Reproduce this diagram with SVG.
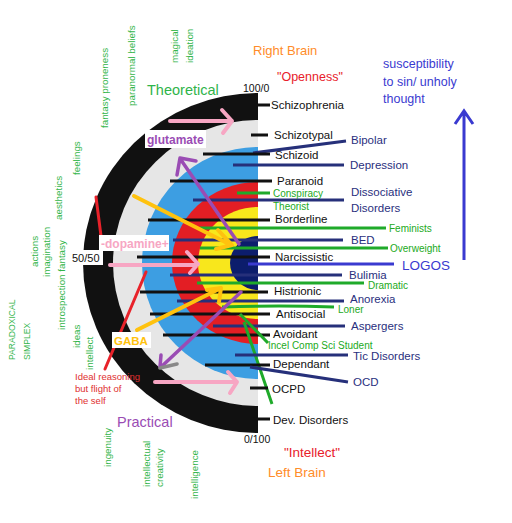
<svg xmlns="http://www.w3.org/2000/svg" width="512" height="523" viewBox="0 0 512 523">
<style>
text{font-family:"Liberation Sans",Arial,sans-serif}
.blk{font-size:11.5px;fill:#111}
.nav{font-size:11.5px;fill:#2a2f7e}
.grn{font-size:10px;fill:#22aa22}
.vg{font-size:9.8px;fill:#33b54a}
.lb{stroke:#111;stroke-width:3;fill:none}
.ln{stroke:#26307a;stroke-width:3;fill:none}
.lg{stroke:#1faa2a;stroke-width:3;fill:none}
.lblue{stroke:#3a3ad0;stroke-width:3;fill:none}
.pk{stroke:#f7a6c3;stroke-width:4;fill:none;stroke-linecap:round;stroke-linejoin:round}
.yl{stroke:#ffc20e;stroke-width:4;fill:none;stroke-linecap:round;stroke-linejoin:round}
.pu{stroke:#9a4cb4;stroke-width:3.5;fill:none;stroke-linecap:round;stroke-linejoin:round}
.rd{stroke:#e8222a;stroke-width:3;fill:none;stroke-linecap:round}
.box{fill:#fff}
</style>
<defs>
<clipPath id="half"><rect x="0" y="0" width="258" height="523"/></clipPath>
</defs>
<rect width="512" height="523" fill="#fff"/>
<g id="target" clip-path="url(#half)">
<ellipse cx="258" cy="263" rx="175" ry="170" fill="#111"/>
<ellipse cx="258" cy="263" rx="145" ry="143" fill="#e6e6e6"/>
<ellipse cx="258" cy="263" rx="116" ry="116" fill="#3d9ee2"/>
<ellipse cx="258" cy="263" rx="86" ry="81" fill="#e31e24"/>
<ellipse cx="258" cy="263" rx="60" ry="56" fill="#f8e71c"/>
<ellipse cx="258" cy="263" rx="28" ry="27" fill="#0c1d6c"/>
</g>
<g id="connectors">
<path class="lb" d="M256 105H270"/>
<path class="lb" d="M251 135H268"/>
<path class="ln" d="M253 153L346 141"/>
<path class="lb" d="M203 154H270"/>
<path class="ln" d="M233 165H344"/>
<path class="lb" d="M170 181H272"/>
<path class="lg" d="M237 193H270"/>
<path class="ln" d="M193 200H344"/>
<path class="lb" d="M148 220H270"/>
<path class="lg" d="M200 228H386"/>
<path class="ln" d="M173 240H343"/>
<path class="lg" d="M200 248H388"/>
<path class="lb" d="M137 257H270"/>
<path class="lblue" d="M248 264H394"/>
<path class="ln" d="M170 275H342"/>
<path class="lg" d="M197 283H364"/>
<path class="lb" d="M140 292H268"/>
<path class="ln" d="M177 301H344"/>
<path class="lg" d="M222 307Q280 305 334 307"/>
<path class="lb" d="M150 314H270"/>
<path class="ln" d="M213 326H345"/>
<path class="lb" d="M163 335H270"/>
<path class="lg" d="M240 314L268 343M244 322L272 404"/>
<path class="ln" d="M235 355H348"/>
<path class="lb" d="M205 365H270"/>
<path class="ln" d="M250 367L348 382"/>
<path class="lb" d="M250 388H268"/>
<path class="lb" d="M252 419H270"/>
<path class="pk" d="M170 121H232M222 110L232 121L223 133"/>
<path class="pk" d="M110 265H197M187 252L198 264L190 273"/>
<path class="pk" d="M155 382H237M228 372L237 382L230 393"/>
<path class="yl" d="M134 196L231 245M218 230L232 245L216 249"/>
<path class="yl" d="M137 330L221 288M207 290L221 288L219 302"/>
<path class="pu" d="M239 244L181 160M196 161L180 158L177 175"/>
<path class="pu" d="M241 292L161 367M161 355L160 367"/>
<path d="M160 368L177 364" stroke="#888" stroke-width="3.5" stroke-linecap="round"/>
<path class="rd" d="M96 197L101 236"/>
<path class="rd" d="M146 272L105 369"/>
<path class="lblue" d="M464 260V111M455 124L464 111L473 124"/>
</g>
<g id="n-schizophrenia"><text class="blk" x="271" y="109">Schizophrenia</text></g>
<g id="n-schizotypal"><text class="blk" x="274" y="139">Schizotypal</text></g>
<g id="n-schizoid"><text class="blk" x="275" y="159">Schizoid</text></g>
<g id="n-paranoid"><text class="blk" x="277" y="185">Paranoid</text></g>
<g id="n-borderline"><text class="blk" x="275" y="223">Borderline</text></g>
<g id="n-narcissistic"><text class="blk" x="275" y="261">Narcissistic</text></g>
<g id="n-histrionic"><text class="blk" x="274" y="295">Histrionic</text></g>
<g id="n-antisocial"><text class="blk" x="276" y="318">Antisocial</text></g>
<g id="n-avoidant"><text class="blk" x="273" y="338">Avoidant</text></g>
<g id="n-dependant"><text class="blk" x="273" y="368">Dependant</text></g>
<g id="n-ocpd"><text class="blk" x="272" y="393">OCPD</text></g>
<g id="n-dev"><text class="blk" x="273" y="424">Dev. Disorders</text></g>
<g id="n-bipolar"><text class="nav" x="351" y="144">Bipolar</text></g>
<g id="n-depression"><text class="nav" x="350" y="169">Depression</text></g>
<g id="n-dissociative"><text class="nav" x="351" y="196">Dissociative</text><text class="nav" x="351" y="212">Disorders</text></g>
<g id="n-bed"><text class="nav" x="351" y="244">BED</text></g>
<g id="n-bulimia"><text class="nav" x="349" y="279">Bulimia</text></g>
<g id="n-anorexia"><text class="nav" x="350" y="303">Anorexia</text></g>
<g id="n-aspergers"><text class="nav" x="351" y="330">Aspergers</text></g>
<g id="n-tic"><text class="nav" x="353" y="360">Tic Disorders</text></g>
<g id="n-ocd"><text class="nav" x="353" y="386">OCD</text></g>
<g id="n-conspiracy"><text class="grn" x="273" y="196.5">Conspiracy</text><text class="grn" x="273" y="209.5">Theorist</text></g>
<g id="n-feminists"><text class="grn" x="389" y="231.5">Feminists</text></g>
<g id="n-overweight"><text class="grn" x="390" y="251.5">Overweight</text></g>
<g id="n-dramatic"><text class="grn" x="368" y="288.5">Dramatic</text></g>
<g id="n-loner"><text class="grn" x="338" y="312.5">Loner</text></g>
<g id="n-incel"><text class="grn" x="268" y="348.5">Incel Comp Sci Student</text></g>
<g id="n-logos"><text x="402" y="270" style="font-size:13.5px;fill:#3a3ad0">LOGOS</text></g>
<g id="n-susceptibility"><text x="383" y="67.5" style="font-size:12.5px;fill:#3a3ad0">susceptibility</text><text x="383" y="85.5" style="font-size:12.5px;fill:#3a3ad0">to sin/ unholy</text><text x="383" y="102.5" style="font-size:12.5px;fill:#3a3ad0">thought</text></g>
<g id="n-rightbrain"><text x="253" y="55" style="font-size:13px;fill:#ff8c2a">Right Brain</text></g>
<g id="n-openness"><text x="277" y="81" style="font-size:12.5px;fill:#e8202a">"Openness"</text></g>
<g id="n-100-0"><text x="243" y="92" style="font-size:10.5px;fill:#111">100/0</text></g>
<g id="n-0-100"><text x="244" y="443" style="font-size:10.5px;fill:#111">0/100</text></g>
<g id="n-intellect-q"><text x="284" y="457" style="font-size:13.5px;fill:#e8202a">"Intellect"</text></g>
<g id="n-leftbrain"><text x="268" y="477" style="font-size:13.5px;fill:#ff8c2a">Left Brain</text></g>
<g id="n-theoretical"><text x="147" y="95" style="font-size:14.5px;fill:#2fb44a">Theoretical</text></g>
<g id="n-practical"><text x="117" y="427" style="font-size:14.5px;fill:#9a4cb4">Practical</text></g>
<g id="n-glutamate"><rect class="box" x="145" y="130" width="61" height="18"/><text x="147" y="144" style="font-size:12px;font-weight:bold;fill:#9a4cb4">glutamate</text></g>
<g id="n-dopamine"><rect class="box" x="99" y="235" width="70" height="16"/><text x="101" y="248" style="font-size:12px;font-weight:bold;fill:#f7a6c3">-dopamine+</text></g>
<g id="n-5050"><rect class="box" x="70" y="250" width="33" height="15"/><text x="72" y="262" style="font-size:11px;fill:#111">50/50</text></g>
<g id="n-gaba"><rect class="box" x="112" y="332" width="39" height="16"/><text x="114" y="345" style="font-size:11.5px;font-weight:bold;fill:#ffc20e">GABA</text></g>
<g id="n-ideal"><text x="75" y="379.5" style="font-size:9.5px;fill:#e03030">Ideal reasoning</text><text x="75" y="392" style="font-size:9.5px;fill:#e03030">but flight of</text><text x="75" y="404" style="font-size:9.5px;fill:#e03030">the self</text></g>
<g id="n-fantasy-proneness"><text class="vg" transform="rotate(-90 108 128)" x="108" y="128">fantasy proneness</text></g>
<g id="n-paranormal"><text class="vg" transform="rotate(-90 135 106)" x="135" y="106">paranormal beliefs</text></g>
<g id="n-magical"><text class="vg" transform="rotate(-90 178 63)" x="178" y="63">magical</text><text class="vg" transform="rotate(-90 193 63)" x="193" y="63">ideation</text></g>
<g id="n-feelings"><text class="vg" transform="rotate(-90 80 175)" x="80" y="175">feelings</text></g>
<g id="n-aesthetics"><text class="vg" transform="rotate(-90 62 220)" x="62" y="220">aesthetics</text></g>
<g id="n-actions"><text class="vg" transform="rotate(-90 38 267)" x="38" y="267">actions</text></g>
<g id="n-imagination"><text class="vg" transform="rotate(-90 50 277)" x="50" y="277">imagination</text></g>
<g id="n-introspection"><text class="vg" transform="rotate(-90 65 330)" x="65" y="330">introspection fantasy</text></g>
<g id="n-ideas"><text class="vg" transform="rotate(-90 80 348)" x="80" y="348">ideas</text></g>
<g id="n-intellect"><text class="vg" transform="rotate(-90 93 370)" x="93" y="370">intellect</text></g>
<g id="n-paradoxical"><text class="vg" style="font-size:8.6px" transform="rotate(-90 15 360)" x="15" y="360">PARADOXICAL</text><text class="vg" style="font-size:8.6px" transform="rotate(-90 30 360)" x="30" y="360">SIMPLEX</text></g>
<g id="n-ingenuity"><text class="vg" transform="rotate(-90 111 467)" x="111" y="467">ingenuity</text></g>
<g id="n-intellectual"><text class="vg" transform="rotate(-90 150 487)" x="150" y="487">intellectual</text><text class="vg" transform="rotate(-90 163 487)" x="163" y="487">creativity</text></g>
<g id="n-intelligence"><text class="vg" transform="rotate(-90 198 499)" x="198" y="499">intelligence</text></g>
</svg>
